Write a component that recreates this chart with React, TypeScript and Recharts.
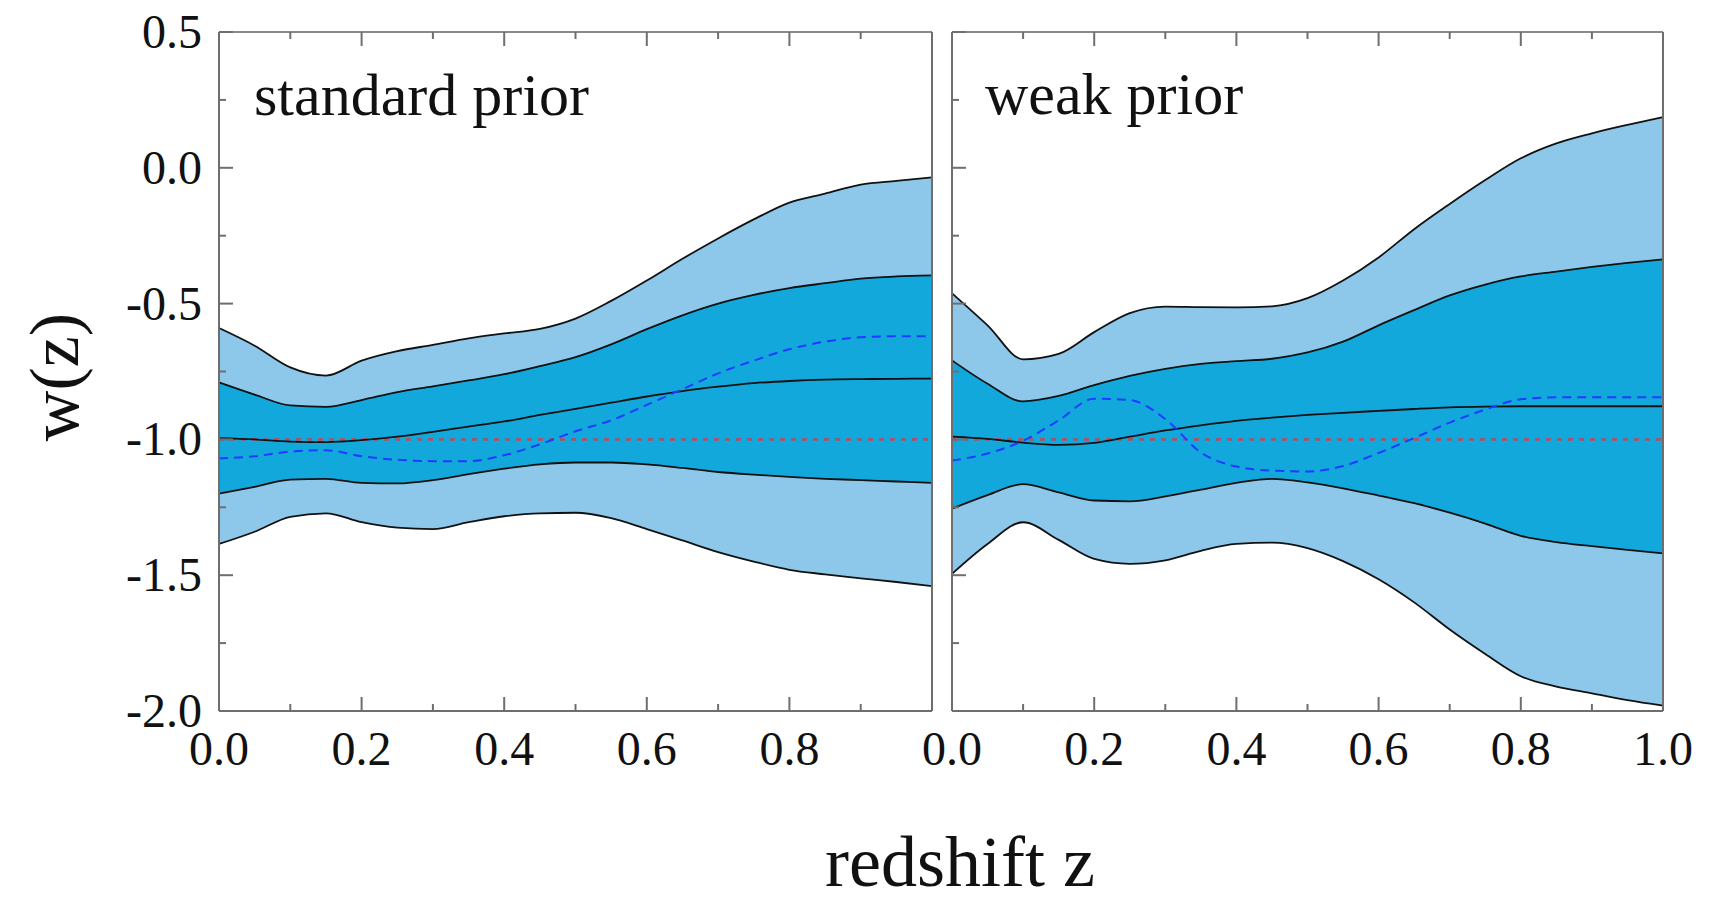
import {
  ComposedChart,
  Area,
  Line,
  XAxis,
  YAxis,
  ReferenceLine,
} from "recharts";

// redshift grid shared by both panels
const zGrid = [0, 0.05, 0.1, 0.15, 0.2, 0.25, 0.3, 0.35, 0.4, 0.45, 0.5, 0.55, 0.6, 0.65, 0.7, 0.75, 0.8, 0.85, 0.9, 0.95, 1.0];

// standard prior
const stdUp2 = [-0.59, -0.655, -0.735, -0.765, -0.71, -0.675, -0.652, -0.628, -0.61, -0.593, -0.555, -0.49, -0.415, -0.335, -0.26, -0.19, -0.128, -0.095, -0.062, -0.048, -0.035];
const stdUp1 = [-0.79, -0.835, -0.875, -0.88, -0.855, -0.826, -0.805, -0.783, -0.76, -0.73, -0.697, -0.65, -0.594, -0.543, -0.5, -0.468, -0.443, -0.425, -0.408, -0.4, -0.396];
const stdMid = [-0.995, -1.0, -1.008, -1.01, -1.003, -0.99, -0.972, -0.953, -0.934, -0.91, -0.888, -0.865, -0.842, -0.822, -0.806, -0.793, -0.785, -0.78, -0.778, -0.777, -0.776];
const stdLo1 = [-1.2, -1.175, -1.148, -1.145, -1.16, -1.162, -1.15, -1.128, -1.108, -1.092, -1.085, -1.085, -1.092, -1.105, -1.12, -1.13, -1.138, -1.145, -1.15, -1.155, -1.16];
const stdLo2 = [-1.385, -1.34, -1.285, -1.272, -1.305, -1.325, -1.33, -1.305, -1.283, -1.272, -1.27, -1.29, -1.33, -1.372, -1.415, -1.45, -1.48, -1.497, -1.512, -1.525, -1.54];
const stdBest = [-1.07, -1.062, -1.045, -1.04, -1.062, -1.075, -1.08, -1.08, -1.058, -1.018, -0.97, -0.93, -0.873, -0.815, -0.757, -0.71, -0.668, -0.64, -0.624, -0.62, -0.62];

// weak prior
const weakUp2 = [-0.462, -0.58, -0.705, -0.685, -0.605, -0.535, -0.511, -0.513, -0.514, -0.51, -0.48, -0.415, -0.33, -0.226, -0.133, -0.045, 0.035, 0.09, 0.127, 0.158, 0.187];
const weakUp1 = [-0.709, -0.795, -0.86, -0.84, -0.8, -0.766, -0.74, -0.722, -0.712, -0.703, -0.68, -0.64, -0.58, -0.524, -0.47, -0.43, -0.4, -0.382, -0.365, -0.35, -0.337];
const weakMid = [-0.99, -0.998, -1.012, -1.02, -1.013, -0.99, -0.967, -0.948, -0.932, -0.92, -0.91, -0.902, -0.895, -0.888, -0.882, -0.879, -0.878, -0.878, -0.878, -0.878, -0.878];
const weakLo1 = [-1.255, -1.205, -1.165, -1.195, -1.225, -1.228, -1.21, -1.185, -1.16, -1.145, -1.158, -1.18, -1.207, -1.235, -1.27, -1.31, -1.355, -1.378, -1.393, -1.407, -1.42];
const weakLo2 = [-1.495, -1.385, -1.305, -1.37, -1.44, -1.458, -1.445, -1.41, -1.385, -1.38, -1.4, -1.448, -1.515, -1.6, -1.7, -1.79, -1.872, -1.91, -1.935, -1.96, -1.98];
const weakBest = [-1.078, -1.052, -1.005, -0.93, -0.85, -0.855, -0.925, -1.048, -1.1, -1.115, -1.118, -1.098, -1.05, -0.995, -0.938, -0.89, -0.852, -0.845, -0.845, -0.845, -0.845];

const xTicks = [0, 0.1, 0.2, 0.3, 0.4, 0.5, 0.6, 0.7, 0.8, 0.9, 1.0];
const yTicks = [-2, -1.75, -1.5, -1.25, -1, -0.75, -0.5, -0.25, 0, 0.25, 0.5];

const FONT = "'Liberation Serif', 'Times New Roman', serif";
const AXIS = "#6e6e6e";
const LIGHT = "#8dc8ea";
const DARK = "#13a8dc";

const buildRows = (up2: number[], up1: number[], mid: number[], lo1: number[], lo2: number[], best: number[]) =>
  zGrid.map((z, i) => ({
    z,
    outer: [lo2[i], up2[i]],
    inner: [lo1[i], up1[i]],
    up2: up2[i],
    up1: up1[i],
    mid: mid[i],
    lo1: lo1[i],
    lo2: lo2[i],
    best: best[i],
  }));

const stdRows = buildRows(stdUp2, stdUp1, stdMid, stdLo1, stdLo2, stdBest);
const weakRows = buildRows(weakUp2, weakUp1, weakMid, weakLo1, weakLo2, weakBest);

const majorX = (v: number) => Math.round(v * 10) % 2 === 0;
const majorY = (v: number) => Math.round(v * 4) % 2 === 0;

const bottomTick = (p: any, skipLast: boolean) => {
  const v = p.payload.value;
  const len = majorX(v) ? 14 : 7;
  const label = majorX(v) && !(skipLast && v > 0.99);
  return (
    <g>
      <line x1={p.x} y1={p.y} x2={p.x} y2={p.y - len} stroke={AXIS} strokeWidth={2} />
      {label && (
        <text x={p.x} y={p.y + 54} textAnchor="middle" fontSize={48} fontFamily={FONT} fill="#111">
          {v.toFixed(1)}
        </text>
      )}
    </g>
  );
};

const topTick = (p: any) => {
  const len = majorX(p.payload.value) ? 14 : 7;
  return <line x1={p.x} y1={p.y} x2={p.x} y2={p.y + len} stroke={AXIS} strokeWidth={2} />;
};

const leftTick = (p: any, withLabel: boolean) => {
  const v = p.payload.value;
  const len = majorY(v) ? 14 : 7;
  return (
    <g>
      <line x1={p.x} y1={p.y} x2={p.x + len} y2={p.y} stroke={AXIS} strokeWidth={2} />
      {withLabel && majorY(v) && (
        <text x={p.x - 17} y={p.y + 16} textAnchor="end" fontSize={48} fontFamily={FONT} fill="#111">
          {v.toFixed(1)}
        </text>
      )}
    </g>
  );
};

const rightTick = (p: any) => {
  const len = majorY(p.payload.value) ? 14 : 7;
  return <line x1={p.x} y1={p.y} x2={p.x - len} y2={p.y} stroke={AXIS} strokeWidth={2} />;
};

const Panel = ({ rows, width, margin, first }: any) => (
  <ComposedChart width={width} height={903} data={rows} margin={margin}>
    <XAxis
      dataKey="z"
      type="number"
      domain={[0, 1]}
      ticks={xTicks}
      interval={0}
      height={60}
      tickSize={0}
      tickMargin={0}
      tickLine={false}
      axisLine={{ stroke: AXIS, strokeWidth: 2 }}
      tick={(p: any) => bottomTick(p, first)}
    />
    <XAxis
      xAxisId="top"
      orientation="top"
      dataKey="z"
      type="number"
      domain={[0, 1]}
      ticks={xTicks}
      interval={0}
      height={1}
      tickSize={0}
      tickMargin={0}
      tickLine={false}
      axisLine={{ stroke: "#8a8a8a", strokeWidth: 2 }}
      tick={topTick}
    />
    <YAxis
      type="number"
      domain={[-2, 0.5]}
      ticks={yTicks}
      interval={0}
      width={first ? 60 : 1}
      tickSize={0}
      tickMargin={0}
      tickLine={false}
      axisLine={{ stroke: AXIS, strokeWidth: 2 }}
      tick={(p: any) => leftTick(p, first)}
    />
    <YAxis
      yAxisId="r"
      orientation="right"
      type="number"
      domain={[-2, 0.5]}
      ticks={yTicks}
      interval={0}
      width={1}
      tickSize={0}
      tickMargin={0}
      tickLine={false}
      axisLine={{ stroke: AXIS, strokeWidth: 2 }}
      tick={rightTick}
    />
    <Area dataKey="outer" type="monotone" fill={LIGHT} fillOpacity={1} stroke="none" isAnimationActive={false} />
    <Area dataKey="inner" type="monotone" fill={DARK} fillOpacity={1} stroke="none" isAnimationActive={false} />
    <ReferenceLine y={-1} stroke="#a4566a" strokeWidth={2.6} strokeDasharray="5 6" />
    {["up2", "up1", "mid", "lo1", "lo2"].map((k) => (
      <Line key={k} dataKey={k} type="monotone" stroke="#111" strokeWidth={1.8} dot={false} isAnimationActive={false} />
    ))}
    <Line dataKey="best" type="monotone" stroke="#1d3cff" strokeWidth={2} strokeDasharray="9 6" dot={false} isAnimationActive={false} />
  </ComposedChart>
);

export default function App() {
  return (
    <div style={{ position: "absolute", left: 0, top: 0, width: 1709, height: 903, background: "#fff" }}>
      <div style={{ position: "absolute", left: 0, top: 0 }}>
        <Panel rows={stdRows} width={950} first margin={{ top: 31, right: 17, bottom: 132, left: 159 }} />
      </div>
      <div style={{ position: "absolute", left: 900, top: 0 }}>
        <Panel rows={weakRows} width={809} first={false} margin={{ top: 31, right: 45, bottom: 132, left: 51 }} />
      </div>
      <svg width={1709} height={903} style={{ position: "absolute", left: 0, top: 0, pointerEvents: "none" }}>
        <text x={254} y={115} fontSize={60} fontFamily={FONT} fill="#111">standard prior</text>
        <text x={985} y={114} fontSize={60} fontFamily={FONT} fill="#111">weak prior</text>
        <text x={78} y={377} transform="rotate(-90, 78, 377)" textAnchor="middle" fontSize={70} fontFamily={FONT} fill="#111">w(z)</text>
        <text x={960} y={886} textAnchor="middle" fontSize={72} fontFamily={FONT} fill="#111">redshift z</text>
      </svg>
    </div>
  );
}
